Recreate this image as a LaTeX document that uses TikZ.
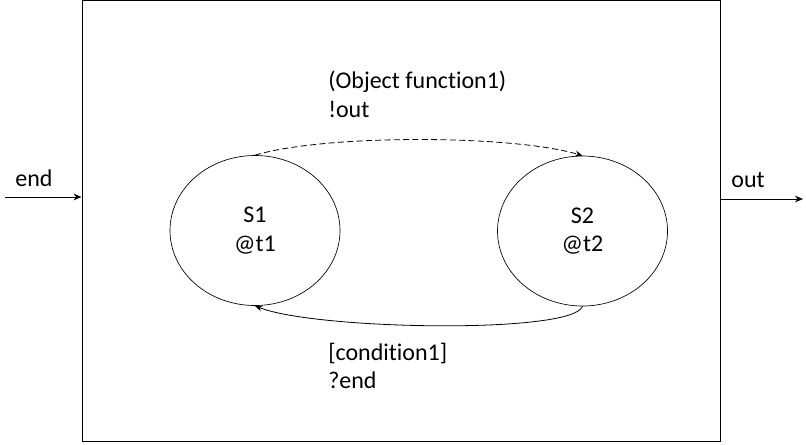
\documentclass[tikz,border=0pt]{standalone}
\usepackage{fontspec}
\setmainfont{Carlito}[Ligatures=NoCommon]
\usepackage{tikz}
\usetikzlibrary{positioning,arrows.meta,shapes.geometric,calc}

\begin{document}
\begin{tikzpicture}[
  x=0.75pt,y=-0.75pt,
  every node/.style={font=\fontsize{18}{21.5}\selectfont},
  state/.style={draw,ellipse,line width=0.5pt,minimum width=127.5pt,
    minimum height=112.5pt,inner sep=0pt,align=center},
  lbl/.style={inner sep=0pt,align=left},
  flow/.style={line width=0.75pt,-{Stealth[length=6pt,width=5pt]}},
  trans/.style={line width=0.6pt,-{Stealth[length=5.5pt,width=4.5pt]}}
]
  \useasboundingbox (0,0) rectangle (806,444);

  % 外枠
  \node[draw,line width=0.75pt,minimum width=478.5pt,minimum height=331pt,
    inner sep=0pt] (block) at (401,221.25) {};

  % 状態
  \node[state] (s1) at (255,230.5) {S1\\@t1};
  \node[state] (s2) at (582.5,231) {S2\\@t2};

  % 入出力
  \coordinate (src) at (5,197);
  \coordinate (dst) at (803,199);
  \draw[flow] (src) -- (src -| block.west);
  \draw[flow] (dst -| block.east) -- (dst);
  \node (lblend) at (34,178) {end};
  \node (lblout) at (748,180) {out};

  % 遷移
  \draw[trans,dash pattern=on 4.5pt off 2.5pt] (s1.north)
    .. controls +(70,-21) and +(-70,-21) .. (s2.north);
  \draw[trans] (s2.south)
    .. controls +(-10,28) and +(60,24) .. (s1.south);

  % 遷移ラベル
  \node[lbl,anchor=west] (lblup) at (328,94)
    {(Object function1)\\!out};
  \node[lbl,anchor=west] (lbldown) at (328,366)
    {[condition1]\\?end};
\end{tikzpicture}
\end{document}
